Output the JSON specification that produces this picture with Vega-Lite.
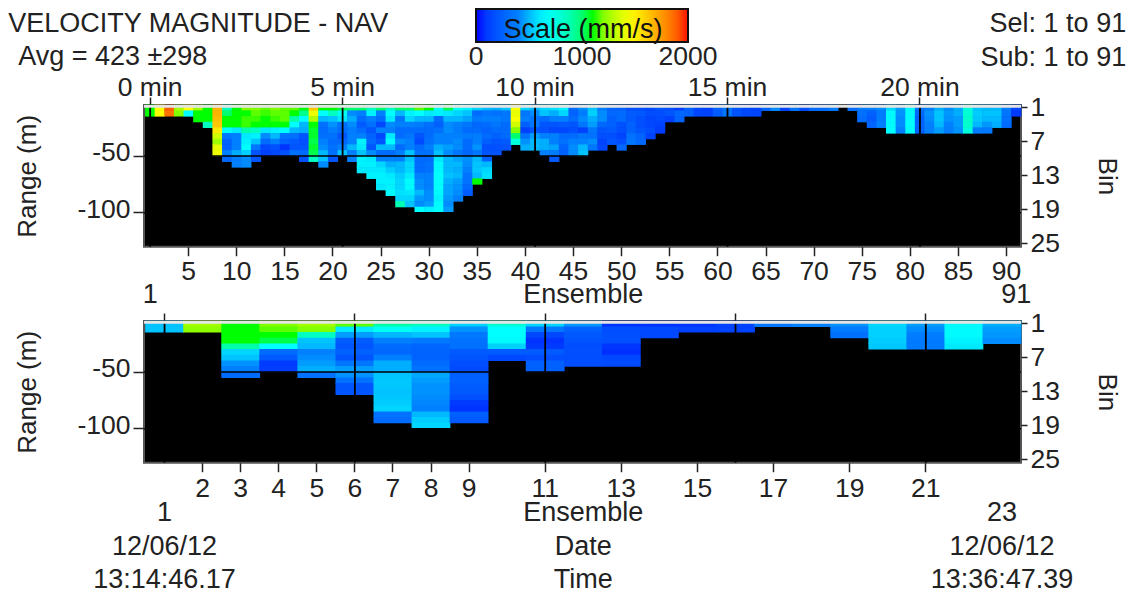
{"$schema":"https://vega.github.io/schema/vega-lite/v6.json","background":"white","padding":{"left":7,"top":8,"right":0,"bottom":2},"spacing":0,
"config":{"font":"Liberation Sans","view":{"fill":"black","stroke":"#555","strokeWidth":2},"text":{"font":"Liberation Sans","fontSize":27,"color":"#222"},"axis":{"labelFont":"Liberation Sans","titleFont":"Liberation Sans","labelColor":"#222","titleColor":"#222","titleFontWeight":"normal","labelFontSize":26.5,"titleFontSize":26,"tickColor":"#222","tickWidth":1.5,"domain":false,"labelOverlap":false,"labelAngle":0},"legend":{"orient":"none","legendX":332,"legendY":-88,"direction":"horizontal","gradientLength":212,"gradientThickness":33,"gradientStrokeColor":"#111","gradientStrokeWidth":2,"labelFont":"Liberation Sans","labelFontSize":26.5,"labelColor":"#222","labelOverlap":false,"labelOffset":4,"titleFont":"Liberation Sans","titleFontSize":27,"titleFontWeight":"normal","titleColor":"#111","titlePadding":-35,"titleAnchor":"middle","titleLimit":300}},
"datasets":{
"top":[{"e":1,"b":1,"v":1100},{"e":1,"b":2,"v":1100},{"e":2,"b":1,"v":1460},{"e":2,"b":2,"v":1460},{"e":3,"b":1,"v":1900},{"e":3,"b":2,"v":1850},{"e":4,"b":1,"v":1250},{"e":4,"b":2,"v":1200},{"e":5,"b":1,"v":1460},{"e":5,"b":2,"v":650},
{"e":6,"b":1,"v":1250},{"e":6,"b":2,"v":1100},{"e":6,"b":3,"v":1100},{"e":7,"b":1,"v":1100},{"e":7,"b":2,"v":1100},{"e":7,"b":3,"v":1100},{"e":7,"b":4,"v":850},
{"e":8,"b":1,"v":1680},{"e":8,"b":2,"v":1680},{"e":8,"b":3,"v":1650},{"e":8,"b":4,"v":1620},{"e":8,"b":5,"v":1520},{"e":8,"b":6,"v":1350},{"e":8,"b":7,"v":1250},{"e":8,"b":8,"v":1400},{"e":8,"b":9,"v":1420},
{"e":9,"b":1,"v":850},{"e":9,"b":2,"v":1000},{"e":9,"b":3,"v":1100},{"e":9,"b":4,"v":1100},{"e":9,"b":5,"v":650},{"e":9,"b":6,"v":350},{"e":9,"b":7,"v":250},{"e":9,"b":8,"v":250},{"e":9,"b":9,"v":400},{"e":9,"b":10,"v":280},
{"e":10,"b":1,"v":1100},{"e":10,"b":2,"v":1100},{"e":10,"b":3,"v":1100},{"e":10,"b":4,"v":1100},{"e":10,"b":5,"v":600},{"e":10,"b":6,"v":400},{"e":10,"b":7,"v":400},{"e":10,"b":8,"v":400},{"e":10,"b":9,"v":480},{"e":10,"b":10,"v":380},{"e":10,"b":11,"v":400},
{"e":11,"b":1,"v":1200},{"e":11,"b":2,"v":1100},{"e":11,"b":3,"v":1120},{"e":11,"b":4,"v":1120},{"e":11,"b":5,"v":900},{"e":11,"b":6,"v":600},{"e":11,"b":7,"v":620},{"e":11,"b":8,"v":650},{"e":11,"b":9,"v":550},{"e":11,"b":10,"v":420},{"e":11,"b":11,"v":420},
{"e":12,"b":1,"v":1200},{"e":12,"b":2,"v":1150},{"e":12,"b":3,"v":1120},{"e":12,"b":4,"v":1100},{"e":12,"b":5,"v":850},{"e":12,"b":6,"v":620},{"e":12,"b":7,"v":520},{"e":12,"b":8,"v":350},{"e":12,"b":9,"v":200},{"e":12,"b":10,"v":200},
{"e":13,"b":1,"v":1150},{"e":13,"b":2,"v":1120},{"e":13,"b":3,"v":1100},{"e":13,"b":4,"v":1100},{"e":13,"b":5,"v":600},{"e":13,"b":6,"v":420},{"e":13,"b":7,"v":300},{"e":13,"b":8,"v":150},{"e":13,"b":9,"v":120},
{"e":14,"b":1,"v":1200},{"e":14,"b":2,"v":1150},{"e":14,"b":3,"v":1120},{"e":14,"b":4,"v":1100},{"e":14,"b":5,"v":620},{"e":14,"b":6,"v":500},{"e":14,"b":7,"v":400},{"e":14,"b":8,"v":180},{"e":14,"b":9,"v":150},
{"e":15,"b":1,"v":1150},{"e":15,"b":2,"v":1150},{"e":15,"b":3,"v":1150},{"e":15,"b":4,"v":1100},{"e":15,"b":5,"v":650},{"e":15,"b":6,"v":320},{"e":15,"b":7,"v":260},{"e":15,"b":8,"v":80},{"e":15,"b":9,"v":180},
{"e":16,"b":1,"v":1150},{"e":16,"b":2,"v":1100},{"e":16,"b":3,"v":900},{"e":16,"b":4,"v":650},{"e":16,"b":5,"v":500},{"e":16,"b":6,"v":320},{"e":16,"b":7,"v":220},{"e":16,"b":8,"v":200},{"e":16,"b":9,"v":320},
{"e":17,"b":1,"v":1100},{"e":17,"b":2,"v":950},{"e":17,"b":3,"v":650},{"e":17,"b":4,"v":500},{"e":17,"b":5,"v":480},{"e":17,"b":6,"v":200},{"e":17,"b":7,"v":180},{"e":17,"b":8,"v":200},{"e":17,"b":9,"v":300},{"e":17,"b":10,"v":180},
{"e":18,"b":1,"v":1620},{"e":18,"b":2,"v":1420},{"e":18,"b":3,"v":1280},{"e":18,"b":4,"v":1100},{"e":18,"b":5,"v":1080},{"e":18,"b":6,"v":1080},{"e":18,"b":7,"v":1050},{"e":18,"b":8,"v":1080},{"e":18,"b":9,"v":1050},{"e":18,"b":10,"v":850},
{"e":19,"b":1,"v":1100},{"e":19,"b":2,"v":650},{"e":19,"b":3,"v":500},{"e":19,"b":4,"v":320},{"e":19,"b":5,"v":300},{"e":19,"b":6,"v":320},{"e":19,"b":7,"v":400},{"e":19,"b":8,"v":420},{"e":19,"b":9,"v":500},{"e":19,"b":10,"v":520},{"e":19,"b":11,"v":420},
{"e":20,"b":1,"v":1100},{"e":20,"b":2,"v":850},{"e":20,"b":3,"v":520},{"e":20,"b":4,"v":430},{"e":20,"b":5,"v":380},{"e":20,"b":6,"v":320},{"e":20,"b":7,"v":300},{"e":20,"b":8,"v":320},{"e":20,"b":9,"v":320},{"e":20,"b":10,"v":200},
{"e":21,"b":1,"v":1050},{"e":21,"b":2,"v":700},{"e":21,"b":3,"v":600},{"e":21,"b":4,"v":320},{"e":21,"b":5,"v":300},{"e":21,"b":6,"v":200},{"e":21,"b":7,"v":280},{"e":21,"b":8,"v":400},{"e":21,"b":9,"v":520},
{"e":22,"b":1,"v":1000},{"e":22,"b":2,"v":420},{"e":22,"b":3,"v":480},{"e":22,"b":4,"v":420},{"e":22,"b":5,"v":380},{"e":22,"b":6,"v":400},{"e":22,"b":7,"v":400},{"e":22,"b":8,"v":500},{"e":22,"b":9,"v":400},{"e":22,"b":10,"v":400},
{"e":23,"b":1,"v":1000},{"e":23,"b":2,"v":400},{"e":23,"b":3,"v":300},{"e":23,"b":4,"v":220},{"e":23,"b":5,"v":300},{"e":23,"b":6,"v":400},{"e":23,"b":7,"v":620},{"e":23,"b":8,"v":600},{"e":23,"b":9,"v":520},{"e":23,"b":10,"v":620},{"e":23,"b":11,"v":620},{"e":23,"b":12,"v":600},
{"e":24,"b":1,"v":850},{"e":24,"b":2,"v":620},{"e":24,"b":3,"v":400},{"e":24,"b":4,"v":320},{"e":24,"b":5,"v":200},{"e":24,"b":6,"v":260},{"e":24,"b":7,"v":280},{"e":24,"b":8,"v":200},{"e":24,"b":9,"v":420},{"e":24,"b":10,"v":600},{"e":24,"b":11,"v":620},{"e":24,"b":12,"v":600},{"e":24,"b":13,"v":620},
{"e":25,"b":1,"v":1000},{"e":25,"b":2,"v":400},{"e":25,"b":3,"v":300},{"e":25,"b":4,"v":150},{"e":25,"b":5,"v":400},{"e":25,"b":6,"v":150},{"e":25,"b":7,"v":200},{"e":25,"b":8,"v":500},{"e":25,"b":9,"v":300},{"e":25,"b":10,"v":400},{"e":25,"b":11,"v":560},{"e":25,"b":12,"v":600},{"e":25,"b":13,"v":620},{"e":25,"b":14,"v":620},{"e":25,"b":15,"v":600},
{"e":26,"b":1,"v":850},{"e":26,"b":2,"v":650},{"e":26,"b":3,"v":600},{"e":26,"b":4,"v":420},{"e":26,"b":5,"v":400},{"e":26,"b":6,"v":600},{"e":26,"b":7,"v":650},{"e":26,"b":8,"v":500},{"e":26,"b":9,"v":300},{"e":26,"b":10,"v":400},{"e":26,"b":11,"v":480},{"e":26,"b":12,"v":540},{"e":26,"b":13,"v":600},{"e":26,"b":14,"v":620},{"e":26,"b":15,"v":620},{"e":26,"b":16,"v":640},
{"e":27,"b":1,"v":1000},{"e":27,"b":2,"v":500},{"e":27,"b":3,"v":350},{"e":27,"b":4,"v":400},{"e":27,"b":5,"v":300},{"e":27,"b":6,"v":300},{"e":27,"b":7,"v":420},{"e":27,"b":8,"v":300},{"e":27,"b":9,"v":400},{"e":27,"b":10,"v":400},{"e":27,"b":11,"v":500},{"e":27,"b":12,"v":500},{"e":27,"b":13,"v":540},{"e":27,"b":14,"v":560},{"e":27,"b":15,"v":560},{"e":27,"b":16,"v":580},{"e":27,"b":17,"v":560},{"e":27,"b":18,"v":880},
{"e":28,"b":1,"v":1000},{"e":28,"b":2,"v":620},{"e":28,"b":3,"v":560},{"e":28,"b":4,"v":400},{"e":28,"b":5,"v":300},{"e":28,"b":6,"v":350},{"e":28,"b":7,"v":400},{"e":28,"b":8,"v":400},{"e":28,"b":9,"v":520},{"e":28,"b":10,"v":520},{"e":28,"b":11,"v":560},{"e":28,"b":12,"v":560},{"e":28,"b":13,"v":600},{"e":28,"b":14,"v":640},{"e":28,"b":15,"v":640},{"e":28,"b":16,"v":600},{"e":28,"b":17,"v":560},{"e":28,"b":18,"v":520},
{"e":29,"b":1,"v":1150},{"e":29,"b":2,"v":650},{"e":29,"b":3,"v":500},{"e":29,"b":4,"v":380},{"e":29,"b":5,"v":300},{"e":29,"b":6,"v":200},{"e":29,"b":7,"v":160},{"e":29,"b":8,"v":300},{"e":29,"b":9,"v":320},{"e":29,"b":10,"v":300},{"e":29,"b":11,"v":300},{"e":29,"b":12,"v":300},{"e":29,"b":13,"v":400},{"e":29,"b":14,"v":420},{"e":29,"b":15,"v":420},{"e":29,"b":16,"v":500},{"e":29,"b":17,"v":440},{"e":29,"b":18,"v":420},{"e":29,"b":19,"v":650},
{"e":30,"b":1,"v":1100},{"e":30,"b":2,"v":600},{"e":30,"b":3,"v":500},{"e":30,"b":4,"v":320},{"e":30,"b":5,"v":300},{"e":30,"b":6,"v":300},{"e":30,"b":7,"v":320},{"e":30,"b":8,"v":400},{"e":30,"b":9,"v":320},{"e":30,"b":10,"v":300},{"e":30,"b":11,"v":320},{"e":30,"b":12,"v":320},{"e":30,"b":13,"v":400},{"e":30,"b":14,"v":400},{"e":30,"b":15,"v":400},{"e":30,"b":16,"v":420},{"e":30,"b":17,"v":420},{"e":30,"b":18,"v":450},{"e":30,"b":19,"v":620},
{"e":31,"b":1,"v":700},{"e":31,"b":2,"v":620},{"e":31,"b":3,"v":300},{"e":31,"b":4,"v":250},{"e":31,"b":5,"v":320},{"e":31,"b":6,"v":400},{"e":31,"b":7,"v":400},{"e":31,"b":8,"v":480},{"e":31,"b":9,"v":520},{"e":31,"b":10,"v":600},{"e":31,"b":11,"v":640},{"e":31,"b":12,"v":640},{"e":31,"b":13,"v":660},{"e":31,"b":14,"v":660},{"e":31,"b":15,"v":660},{"e":31,"b":16,"v":640},{"e":31,"b":17,"v":620},{"e":31,"b":18,"v":640},{"e":31,"b":19,"v":660},
{"e":32,"b":1,"v":1050},{"e":32,"b":2,"v":600},{"e":32,"b":3,"v":500},{"e":32,"b":4,"v":420},{"e":32,"b":5,"v":420},{"e":32,"b":6,"v":400},{"e":32,"b":7,"v":400},{"e":32,"b":8,"v":450},{"e":32,"b":9,"v":420},{"e":32,"b":10,"v":500},{"e":32,"b":11,"v":500},{"e":32,"b":12,"v":500},{"e":32,"b":13,"v":520},{"e":32,"b":14,"v":480},{"e":32,"b":15,"v":460},{"e":32,"b":16,"v":460},{"e":32,"b":17,"v":440},{"e":32,"b":18,"v":420},{"e":32,"b":19,"v":450},
{"e":33,"b":1,"v":700},{"e":33,"b":2,"v":560},{"e":33,"b":3,"v":500},{"e":33,"b":4,"v":400},{"e":33,"b":5,"v":380},{"e":33,"b":6,"v":400},{"e":33,"b":7,"v":420},{"e":33,"b":8,"v":420},{"e":33,"b":9,"v":350},{"e":33,"b":10,"v":460},{"e":33,"b":11,"v":500},{"e":33,"b":12,"v":480},{"e":33,"b":13,"v":500},{"e":33,"b":14,"v":450},{"e":33,"b":15,"v":430},{"e":33,"b":16,"v":420},{"e":33,"b":17,"v":400},
{"e":34,"b":1,"v":620},{"e":34,"b":2,"v":520},{"e":34,"b":3,"v":460},{"e":34,"b":4,"v":350},{"e":34,"b":5,"v":300},{"e":34,"b":6,"v":380},{"e":34,"b":7,"v":300},{"e":34,"b":8,"v":300},{"e":34,"b":9,"v":280},{"e":34,"b":10,"v":430},{"e":34,"b":11,"v":420},{"e":34,"b":12,"v":400},{"e":34,"b":13,"v":340},{"e":34,"b":14,"v":330},{"e":34,"b":15,"v":280},{"e":34,"b":16,"v":230},
{"e":35,"b":1,"v":550},{"e":35,"b":2,"v":300},{"e":35,"b":3,"v":380},{"e":35,"b":4,"v":280},{"e":35,"b":5,"v":300},{"e":35,"b":6,"v":380},{"e":35,"b":7,"v":400},{"e":35,"b":8,"v":430},{"e":35,"b":9,"v":350},{"e":35,"b":10,"v":500},{"e":35,"b":11,"v":520},{"e":35,"b":12,"v":530},{"e":35,"b":13,"v":500},{"e":35,"b":14,"v":1100},
{"e":36,"b":1,"v":500},{"e":36,"b":2,"v":350},{"e":36,"b":3,"v":400},{"e":36,"b":4,"v":300},{"e":36,"b":5,"v":260},{"e":36,"b":6,"v":300},{"e":36,"b":7,"v":240},{"e":36,"b":8,"v":180},{"e":36,"b":9,"v":200},{"e":36,"b":10,"v":250},{"e":36,"b":11,"v":500},{"e":36,"b":12,"v":560},{"e":36,"b":13,"v":580},
{"e":37,"b":1,"v":480},{"e":37,"b":2,"v":330},{"e":37,"b":3,"v":400},{"e":37,"b":4,"v":350},{"e":37,"b":5,"v":300},{"e":37,"b":6,"v":250},{"e":37,"b":7,"v":200},{"e":37,"b":8,"v":180},{"e":37,"b":9,"v":190},
{"e":38,"b":1,"v":520},{"e":38,"b":2,"v":350},{"e":38,"b":3,"v":360},{"e":38,"b":4,"v":300},{"e":38,"b":5,"v":300},{"e":38,"b":6,"v":300},{"e":38,"b":7,"v":220},{"e":38,"b":8,"v":190},
{"e":39,"b":1,"v":1450},{"e":39,"b":2,"v":1400},{"e":39,"b":3,"v":1440},{"e":39,"b":4,"v":1340},{"e":39,"b":5,"v":1200},{"e":39,"b":6,"v":1000},{"e":39,"b":7,"v":780},
{"e":40,"b":1,"v":550},{"e":40,"b":2,"v":350},{"e":40,"b":3,"v":400},{"e":40,"b":4,"v":250},{"e":40,"b":5,"v":120},{"e":40,"b":6,"v":330},{"e":40,"b":7,"v":430},{"e":40,"b":8,"v":480},
{"e":41,"b":1,"v":500},{"e":41,"b":2,"v":420},{"e":41,"b":3,"v":350},{"e":41,"b":4,"v":350},{"e":41,"b":5,"v":200},{"e":41,"b":6,"v":450},{"e":41,"b":7,"v":500},{"e":41,"b":8,"v":500},
{"e":42,"b":1,"v":560},{"e":42,"b":2,"v":520},{"e":42,"b":3,"v":300},{"e":42,"b":4,"v":200},{"e":42,"b":5,"v":180},{"e":42,"b":6,"v":400},{"e":42,"b":7,"v":480},{"e":42,"b":8,"v":480},{"e":42,"b":9,"v":400},
{"e":43,"b":1,"v":580},{"e":43,"b":2,"v":480},{"e":43,"b":3,"v":400},{"e":43,"b":4,"v":200},{"e":43,"b":5,"v":150},{"e":43,"b":6,"v":400},{"e":43,"b":7,"v":400},{"e":43,"b":8,"v":460},{"e":43,"b":9,"v":380},{"e":43,"b":10,"v":220},
{"e":44,"b":1,"v":620},{"e":44,"b":2,"v":560},{"e":44,"b":3,"v":400},{"e":44,"b":4,"v":220},{"e":44,"b":5,"v":150},{"e":44,"b":6,"v":300},{"e":44,"b":7,"v":320},{"e":44,"b":8,"v":260},{"e":44,"b":9,"v":250},
{"e":45,"b":1,"v":300},{"e":45,"b":2,"v":260},{"e":45,"b":3,"v":300},{"e":45,"b":4,"v":200},{"e":45,"b":5,"v":180},{"e":45,"b":6,"v":300},{"e":45,"b":7,"v":400},{"e":45,"b":8,"v":420},{"e":45,"b":9,"v":420},
{"e":46,"b":1,"v":420},{"e":46,"b":2,"v":380},{"e":46,"b":3,"v":420},{"e":46,"b":4,"v":350},{"e":46,"b":5,"v":120},{"e":46,"b":6,"v":350},{"e":46,"b":7,"v":400},{"e":46,"b":8,"v":500},{"e":46,"b":9,"v":520},
{"e":47,"b":1,"v":520},{"e":47,"b":2,"v":550},{"e":47,"b":3,"v":480},{"e":47,"b":4,"v":450},{"e":47,"b":5,"v":350},{"e":47,"b":6,"v":330},{"e":47,"b":7,"v":420},{"e":47,"b":8,"v":350},
{"e":48,"b":1,"v":380},{"e":48,"b":2,"v":420},{"e":48,"b":3,"v":420},{"e":48,"b":4,"v":280},{"e":48,"b":5,"v":200},{"e":48,"b":6,"v":180},{"e":48,"b":7,"v":130},{"e":48,"b":8,"v":150},
{"e":49,"b":1,"v":270},{"e":49,"b":2,"v":280},{"e":49,"b":3,"v":250},{"e":49,"b":4,"v":240},{"e":49,"b":5,"v":220},{"e":49,"b":6,"v":180},{"e":49,"b":7,"v":200},
{"e":50,"b":1,"v":240},{"e":50,"b":2,"v":300},{"e":50,"b":3,"v":300},{"e":50,"b":4,"v":180},{"e":50,"b":5,"v":170},{"e":50,"b":6,"v":130},{"e":50,"b":7,"v":170},{"e":50,"b":8,"v":280},
{"e":51,"b":1,"v":180},{"e":51,"b":2,"v":230},{"e":51,"b":3,"v":220},{"e":51,"b":4,"v":250},{"e":51,"b":5,"v":250},{"e":51,"b":6,"v":330},{"e":51,"b":7,"v":350},
{"e":52,"b":1,"v":170},{"e":52,"b":2,"v":210},{"e":52,"b":3,"v":180},{"e":52,"b":4,"v":170},{"e":52,"b":5,"v":200},{"e":52,"b":6,"v":260},{"e":52,"b":7,"v":280},
{"e":53,"b":1,"v":150},{"e":53,"b":2,"v":170},{"e":53,"b":3,"v":140},{"e":53,"b":4,"v":150},{"e":53,"b":5,"v":170},{"e":53,"b":6,"v":130},
{"e":54,"b":1,"v":200},{"e":54,"b":2,"v":170},{"e":54,"b":3,"v":160},{"e":54,"b":4,"v":130},{"e":54,"b":5,"v":110},
{"e":55,"b":1,"v":170},{"e":55,"b":2,"v":200},{"e":55,"b":3,"v":120},{"e":56,"b":1,"v":110},{"e":56,"b":2,"v":280},{"e":56,"b":3,"v":260},
{"e":57,"b":1,"v":240},{"e":57,"b":2,"v":250},{"e":58,"b":1,"v":140},{"e":58,"b":2,"v":140},{"e":59,"b":1,"v":120},{"e":59,"b":2,"v":130},{"e":60,"b":1,"v":250},{"e":60,"b":2,"v":230},
{"e":61,"b":1,"v":350},{"e":61,"b":2,"v":350},{"e":62,"b":1,"v":200},{"e":62,"b":2,"v":190},{"e":63,"b":1,"v":150},{"e":63,"b":2,"v":150},{"e":64,"b":1,"v":130},{"e":64,"b":2,"v":140},
{"e":65,"b":1,"v":260},{"e":66,"b":1,"v":420},{"e":67,"b":1,"v":130},{"e":68,"b":1,"v":340},{"e":69,"b":1,"v":170},{"e":70,"b":1,"v":300},{"e":71,"b":1,"v":310},{"e":72,"b":1,"v":380},{"e":74,"b":1,"v":310},
{"e":75,"b":1,"v":370},{"e":75,"b":2,"v":320},{"e":75,"b":3,"v":300},
{"e":76,"b":1,"v":400},{"e":76,"b":2,"v":250},{"e":76,"b":3,"v":220},{"e":76,"b":4,"v":270},
{"e":77,"b":1,"v":420},{"e":77,"b":2,"v":370},{"e":77,"b":3,"v":380},{"e":77,"b":4,"v":400},
{"e":78,"b":1,"v":560},{"e":78,"b":2,"v":640},{"e":78,"b":3,"v":640},{"e":78,"b":4,"v":640},{"e":78,"b":5,"v":650},
{"e":79,"b":1,"v":450},{"e":79,"b":2,"v":430},{"e":79,"b":3,"v":420},{"e":79,"b":4,"v":420},{"e":79,"b":5,"v":400},
{"e":80,"b":1,"v":640},{"e":80,"b":2,"v":660},{"e":80,"b":3,"v":660},{"e":80,"b":4,"v":650},{"e":80,"b":5,"v":650},
{"e":81,"b":1,"v":350},{"e":81,"b":2,"v":300},{"e":81,"b":3,"v":250},{"e":81,"b":4,"v":260},{"e":81,"b":5,"v":250},
{"e":82,"b":1,"v":400},{"e":82,"b":2,"v":430},{"e":82,"b":3,"v":420},{"e":82,"b":4,"v":400},{"e":82,"b":5,"v":400},
{"e":83,"b":1,"v":480},{"e":83,"b":2,"v":520},{"e":83,"b":3,"v":520},{"e":83,"b":4,"v":500},{"e":83,"b":5,"v":450},
{"e":84,"b":1,"v":420},{"e":84,"b":2,"v":440},{"e":84,"b":3,"v":430},{"e":84,"b":4,"v":400},{"e":84,"b":5,"v":380},
{"e":85,"b":1,"v":480},{"e":85,"b":2,"v":480},{"e":85,"b":3,"v":450},{"e":85,"b":4,"v":450},{"e":85,"b":5,"v":430},
{"e":86,"b":1,"v":780},{"e":86,"b":2,"v":800},{"e":86,"b":3,"v":820},{"e":86,"b":4,"v":820},{"e":86,"b":5,"v":780},
{"e":87,"b":1,"v":520},{"e":87,"b":2,"v":540},{"e":87,"b":3,"v":530},{"e":87,"b":4,"v":500},{"e":87,"b":5,"v":380},
{"e":88,"b":1,"v":500},{"e":88,"b":2,"v":520},{"e":88,"b":3,"v":500},{"e":88,"b":4,"v":440},{"e":88,"b":5,"v":360},
{"e":89,"b":1,"v":500},{"e":89,"b":2,"v":520},{"e":89,"b":3,"v":500},{"e":89,"b":4,"v":480},
{"e":90,"b":1,"v":380},{"e":90,"b":2,"v":350},{"e":90,"b":3,"v":320},{"e":90,"b":4,"v":300},
{"e":91,"b":1,"v":140},{"e":91,"b":2,"v":100}],
"bottom":[{"e":1,"b":1,"v":520},{"e":1,"b":2,"v":520},{"e":2,"b":1,"v":1250},{"e":2,"b":2,"v":1220},
{"e":3,"b":1,"v":1100},{"e":3,"b":2,"v":1100},{"e":3,"b":3,"v":1100},{"e":3,"b":4,"v":1100},{"e":3,"b":5,"v":900},{"e":3,"b":6,"v":560},{"e":3,"b":7,"v":520},{"e":3,"b":8,"v":430},{"e":3,"b":9,"v":400},{"e":3,"b":10,"v":300},
{"e":4,"b":1,"v":1200},{"e":4,"b":2,"v":1150},{"e":4,"b":3,"v":1100},{"e":4,"b":4,"v":1050},{"e":4,"b":5,"v":650},{"e":4,"b":6,"v":300},{"e":4,"b":7,"v":220},{"e":4,"b":8,"v":100},{"e":4,"b":9,"v":110},
{"e":5,"b":1,"v":1250},{"e":5,"b":2,"v":1200},{"e":5,"b":3,"v":850},{"e":5,"b":4,"v":520},{"e":5,"b":5,"v":500},{"e":5,"b":6,"v":400},{"e":5,"b":7,"v":420},{"e":5,"b":8,"v":450},{"e":5,"b":9,"v":480},{"e":5,"b":10,"v":330},
{"e":6,"b":1,"v":1150},{"e":6,"b":2,"v":600},{"e":6,"b":3,"v":450},{"e":6,"b":4,"v":230},{"e":6,"b":5,"v":200},{"e":6,"b":6,"v":250},{"e":6,"b":7,"v":200},{"e":6,"b":8,"v":350},{"e":6,"b":9,"v":450},{"e":6,"b":10,"v":430},{"e":6,"b":11,"v":330},{"e":6,"b":12,"v":200},{"e":6,"b":13,"v":200},
{"e":7,"b":1,"v":900},{"e":7,"b":2,"v":700},{"e":7,"b":3,"v":500},{"e":7,"b":4,"v":400},{"e":7,"b":5,"v":300},{"e":7,"b":6,"v":280},{"e":7,"b":7,"v":400},{"e":7,"b":8,"v":480},{"e":7,"b":9,"v":480},{"e":7,"b":10,"v":520},{"e":7,"b":11,"v":530},{"e":7,"b":12,"v":530},{"e":7,"b":13,"v":520},{"e":7,"b":14,"v":530},{"e":7,"b":15,"v":540},{"e":7,"b":16,"v":560},{"e":7,"b":17,"v":330},{"e":7,"b":18,"v":300},
{"e":8,"b":1,"v":850},{"e":8,"b":2,"v":620},{"e":8,"b":3,"v":520},{"e":8,"b":4,"v":360},{"e":8,"b":5,"v":270},{"e":8,"b":6,"v":260},{"e":8,"b":7,"v":260},{"e":8,"b":8,"v":300},{"e":8,"b":9,"v":330},{"e":8,"b":10,"v":470},{"e":8,"b":11,"v":450},{"e":8,"b":12,"v":430},{"e":8,"b":13,"v":430},{"e":8,"b":14,"v":420},{"e":8,"b":15,"v":410},{"e":8,"b":16,"v":400},{"e":8,"b":17,"v":500},{"e":8,"b":18,"v":540},{"e":8,"b":19,"v":560},
{"e":9,"b":1,"v":550},{"e":9,"b":2,"v":430},{"e":9,"b":3,"v":360},{"e":9,"b":4,"v":330},{"e":9,"b":5,"v":320},{"e":9,"b":6,"v":220},{"e":9,"b":7,"v":200},{"e":9,"b":8,"v":170},{"e":9,"b":9,"v":160},{"e":9,"b":10,"v":240},{"e":9,"b":11,"v":250},{"e":9,"b":12,"v":230},{"e":9,"b":13,"v":220},{"e":9,"b":14,"v":180},{"e":9,"b":15,"v":100},{"e":9,"b":16,"v":80},{"e":9,"b":17,"v":240},{"e":9,"b":18,"v":220},
{"e":10,"b":1,"v":800},{"e":10,"b":2,"v":650},{"e":10,"b":3,"v":650},{"e":10,"b":4,"v":640},{"e":10,"b":5,"v":550},{"e":10,"b":6,"v":230},{"e":10,"b":7,"v":150},
{"e":11,"b":1,"v":560},{"e":11,"b":2,"v":360},{"e":11,"b":3,"v":150},{"e":11,"b":4,"v":80},{"e":11,"b":5,"v":100},{"e":11,"b":6,"v":220},{"e":11,"b":7,"v":170},{"e":11,"b":8,"v":250},{"e":11,"b":9,"v":250},
{"e":12,"b":1,"v":440},{"e":12,"b":2,"v":250},{"e":12,"b":3,"v":210},{"e":12,"b":4,"v":190},{"e":12,"b":5,"v":170},{"e":12,"b":6,"v":180},{"e":12,"b":7,"v":170},{"e":12,"b":8,"v":170},
{"e":13,"b":1,"v":80},{"e":13,"b":2,"v":170},{"e":13,"b":3,"v":180},{"e":13,"b":4,"v":180},{"e":13,"b":5,"v":90},{"e":13,"b":6,"v":70},{"e":13,"b":7,"v":150},{"e":13,"b":8,"v":160},
{"e":14,"b":1,"v":80},{"e":14,"b":2,"v":150},{"e":14,"b":3,"v":150},{"e":15,"b":1,"v":90},{"e":15,"b":2,"v":120},{"e":16,"b":1,"v":130},{"e":16,"b":2,"v":130},{"e":17,"b":1,"v":350},{"e":18,"b":1,"v":400},
{"e":19,"b":1,"v":430},{"e":19,"b":2,"v":370},{"e":19,"b":3,"v":320},
{"e":20,"b":1,"v":560},{"e":20,"b":2,"v":550},{"e":20,"b":3,"v":550},{"e":20,"b":4,"v":540},{"e":20,"b":5,"v":530},
{"e":21,"b":1,"v":450},{"e":21,"b":2,"v":420},{"e":21,"b":3,"v":390},{"e":21,"b":4,"v":370},{"e":21,"b":5,"v":370},
{"e":22,"b":1,"v":640},{"e":22,"b":2,"v":640},{"e":22,"b":3,"v":640},{"e":22,"b":4,"v":620},{"e":22,"b":5,"v":600},
{"e":23,"b":1,"v":480},{"e":23,"b":2,"v":450},{"e":23,"b":3,"v":440},{"e":23,"b":4,"v":420}]},
"vconcat":[
{"width":877,"height":141.7,"resolve":{"axis":{"x":"independent","y":"independent"}},"layer":[
{"data":{"name":"top"},"mark":{"type":"rect","width":{"band":1.06},"height":{"band":1.1}},"encoding":{
"x":{"field":"e","type":"ordinal","scale":{"domain":[1,2,3,4,5,6,7,8,9,10,11,12,13,14,15,16,17,18,19,20,21,22,23,24,25,26,27,28,29,30,31,32,33,34,35,36,37,38,39,40,41,42,43,44,45,46,47,48,49,50,51,52,53,54,55,56,57,58,59,60,61,62,63,64,65,66,67,68,69,70,71,72,73,74,75,76,77,78,79,80,81,82,83,84,85,86,87,88,89,90,91],"paddingInner":0,"paddingOuter":0.07,"align":1},"axis":{"orient":"bottom","title":null,"values":[5,10,15,20,25,30,35,40,45,50,55,60,65,70,75,80,85,90],"tickSize":9,"labelPadding":3}},
"y":{"field":"b","type":"ordinal","scale":{"domain":[1,2,3,4,5,6,7,8,9,10,11,12,13,14,15,16,17,18,19,20,21,22,23,24,25],"paddingInner":0,"paddingOuter":0},"axis":{"orient":"left","title":"Range (m)","values":[9,19],"labelExpr":"datum.value==9?'-50':'-100'","bandPosition":1,"tickSize":11,"labelPadding":3,"titlePadding":36}},
"color":{"field":"v","type":"quantitative","title":"Scale (mm/s)","scale":{"domain":[0,400,650,1100,1460,2000],"range":["#0000ff","#0080ff","#00ffff","#00ff00","#ffff00","#ff1000"]},"legend":{"type":"gradient","values":[0,1000,2000],"format":"d","encode":{"labels":{"update":{"align":{"value":"center"}}}}}}}},
{"data":{"values":[{"e":1,"b":25,"t":"1"},{"e":46,"b":25,"t":"Ensemble"},{"e":91,"b":25,"t":"91"}]},"mark":{"type":"text","dy":51},"encoding":{
"x":{"field":"e","type":"ordinal","scale":{"domain":[1,2,3,4,5,6,7,8,9,10,11,12,13,14,15,16,17,18,19,20,21,22,23,24,25,26,27,28,29,30,31,32,33,34,35,36,37,38,39,40,41,42,43,44,45,46,47,48,49,50,51,52,53,54,55,56,57,58,59,60,61,62,63,64,65,66,67,68,69,70,71,72,73,74,75,76,77,78,79,80,81,82,83,84,85,86,87,88,89,90,91],"paddingInner":0,"paddingOuter":0.07,"align":1},"axis":{"orient":"top","title":null,"values":[1,21,41,61,81],"labelExpr":"((datum.value-1)/4)+' min'","tickSize":8,"labelPadding":-4}},
"y":{"field":"b","type":"ordinal","scale":{"domain":[1,2,3,4,5,6,7,8,9,10,11,12,13,14,15,16,17,18,19,20,21,22,23,24,25],"paddingInner":0,"paddingOuter":0},"axis":{"orient":"right","title":"Bin","titleAngle":90,"values":[1,7,13,19,25],"tickSize":6,"labelPadding":3,"titlePadding":34}},
"text":{"field":"t"}}},
{"data":{"values":[{"e":1},{"e":21},{"e":41},{"e":61},{"e":81}]},"mark":{"type":"rule","color":"black","strokeWidth":1.8},"encoding":{"x":{"field":"e","type":"ordinal","axis":null,"scale":{"domain":[1,2,3,4,5,6,7,8,9,10,11,12,13,14,15,16,17,18,19,20,21,22,23,24,25,26,27,28,29,30,31,32,33,34,35,36,37,38,39,40,41,42,43,44,45,46,47,48,49,50,51,52,53,54,55,56,57,58,59,60,61,62,63,64,65,66,67,68,69,70,71,72,73,74,75,76,77,78,79,80,81,82,83,84,85,86,87,88,89,90,91],"paddingInner":0,"paddingOuter":0.07,"align":1}}}},
{"data":{"values":[{"b":9},{"b":19}]},"mark":{"type":"rule","color":"black","strokeWidth":1.5},"encoding":{"y":{"field":"b","type":"ordinal","bandPosition":1,"axis":null,"scale":{"domain":[1,2,3,4,5,6,7,8,9,10,11,12,13,14,15,16,17,18,19,20,21,22,23,24,25],"paddingInner":0,"paddingOuter":0}}}},
{"data":{"values":[{"b":1}]},"mark":{"type":"rule","color":"#e4e4e4","strokeWidth":2.6,"yOffset":-1.5},"encoding":{"y":{"field":"b","type":"ordinal","scale":{"domain":[1,2,3,4,5,6,7,8,9,10,11,12,13,14,15,16,17,18,19,20,21,22,23,24,25],"paddingInner":0,"paddingOuter":0},"axis":null}}},
{"data":{"values":[{"e":1,"b":1,"t":"VELOCITY MAGNITUDE - NAV"}]},"mark":{"type":"text","align":"left","dx":-142,"dy":-84},"encoding":{
"x":{"field":"e","type":"ordinal","axis":null,"scale":{"domain":[1,2,3,4,5,6,7,8,9,10,11,12,13,14,15,16,17,18,19,20,21,22,23,24,25,26,27,28,29,30,31,32,33,34,35,36,37,38,39,40,41,42,43,44,45,46,47,48,49,50,51,52,53,54,55,56,57,58,59,60,61,62,63,64,65,66,67,68,69,70,71,72,73,74,75,76,77,78,79,80,81,82,83,84,85,86,87,88,89,90,91],"paddingInner":0,"paddingOuter":0.07,"align":1}},
"y":{"field":"b","type":"ordinal","axis":null,"scale":{"domain":[1,2,3,4,5,6,7,8,9,10,11,12,13,14,15,16,17,18,19,20,21,22,23,24,25],"paddingInner":0,"paddingOuter":0}},"text":{"field":"t"}}},
{"data":{"values":[{"e":1,"b":1,"t":"Avg = 423 ±298"}]},"mark":{"type":"text","align":"left","dx":-132,"dy":-51},"encoding":{
"x":{"field":"e","type":"ordinal","axis":null,"scale":{"domain":[1,2,3,4,5,6,7,8,9,10,11,12,13,14,15,16,17,18,19,20,21,22,23,24,25,26,27,28,29,30,31,32,33,34,35,36,37,38,39,40,41,42,43,44,45,46,47,48,49,50,51,52,53,54,55,56,57,58,59,60,61,62,63,64,65,66,67,68,69,70,71,72,73,74,75,76,77,78,79,80,81,82,83,84,85,86,87,88,89,90,91],"paddingInner":0,"paddingOuter":0.07,"align":1}},
"y":{"field":"b","type":"ordinal","axis":null,"scale":{"domain":[1,2,3,4,5,6,7,8,9,10,11,12,13,14,15,16,17,18,19,20,21,22,23,24,25],"paddingInner":0,"paddingOuter":0}},"text":{"field":"t"}}},
{"data":{"values":[{"e":91,"b":1,"t":"Sel: 1 to 91\nSub: 1 to 91"}]},"mark":{"type":"text","align":"right","dx":110,"dy":-84,"lineBreak":"\n","lineHeight":34},"encoding":{
"x":{"field":"e","type":"ordinal","axis":null,"scale":{"domain":[1,2,3,4,5,6,7,8,9,10,11,12,13,14,15,16,17,18,19,20,21,22,23,24,25,26,27,28,29,30,31,32,33,34,35,36,37,38,39,40,41,42,43,44,45,46,47,48,49,50,51,52,53,54,55,56,57,58,59,60,61,62,63,64,65,66,67,68,69,70,71,72,73,74,75,76,77,78,79,80,81,82,83,84,85,86,87,88,89,90,91],"paddingInner":0,"paddingOuter":0.07,"align":1}},
"y":{"field":"b","type":"ordinal","axis":null,"scale":{"domain":[1,2,3,4,5,6,7,8,9,10,11,12,13,14,15,16,17,18,19,20,21,22,23,24,25],"paddingInner":0,"paddingOuter":0}},"text":{"field":"t"}}}
]},
{"width":877,"height":141.7,"resolve":{"axis":{"x":"independent","y":"independent"}},"layer":[
{"data":{"name":"bottom"},"mark":{"type":"rect","width":{"band":1.02},"height":{"band":1.1}},"encoding":{
"x":{"field":"e","type":"ordinal","scale":{"domain":[1,2,3,4,5,6,7,8,9,10,11,12,13,14,15,16,17,18,19,20,21,22,23],"paddingInner":0,"paddingOuter":0.02,"align":1},"axis":{"orient":"bottom","title":null,"values":[2,3,4,5,6,7,8,9,11,13,15,17,19,21],"tickSize":9,"labelPadding":4}},
"y":{"field":"b","type":"ordinal","scale":{"domain":[1,2,3,4,5,6,7,8,9,10,11,12,13,14,15,16,17,18,19,20,21,22,23,24,25],"paddingInner":0,"paddingOuter":0},"axis":{"orient":"left","title":"Range (m)","values":[9,19],"labelExpr":"datum.value==9?'-50':'-100'","bandPosition":1,"tickSize":11,"labelPadding":3,"titlePadding":36}},
"color":{"field":"v","type":"quantitative","title":"Scale (mm/s)","scale":{"domain":[0,400,650,1100,1460,2000],"range":["#0000ff","#0080ff","#00ffff","#00ff00","#ffff00","#ff1000"]},"legend":{"type":"gradient","values":[0,1000,2000],"format":"d","encode":{"labels":{"update":{"align":{"value":"center"}}}}}}}},
{"data":{"values":[{"e":1,"b":25,"t":"1\n12/06/12\n13:14:46.17"},{"e":12,"b":25,"t":"Ensemble\nDate\nTime"},{"e":23,"b":25,"t":"23\n12/06/12\n13:36:47.39"}]},"mark":{"type":"text","dy":53.5,"baseline":"middle","lineBreak":"\n","lineHeight":33.5},"encoding":{
"x":{"field":"e","type":"ordinal","scale":{"domain":[1,2,3,4,5,6,7,8,9,10,11,12,13,14,15,16,17,18,19,20,21,22,23],"paddingInner":0,"paddingOuter":0.02,"align":1},"axis":{"orient":"top","title":null,"values":[1,6,11,16,21],"labels":false,"tickSize":8}},
"y":{"field":"b","type":"ordinal","scale":{"domain":[1,2,3,4,5,6,7,8,9,10,11,12,13,14,15,16,17,18,19,20,21,22,23,24,25],"paddingInner":0,"paddingOuter":0},"axis":{"orient":"right","title":"Bin","titleAngle":90,"values":[1,7,13,19,25],"tickSize":6,"labelPadding":3,"titlePadding":34}},
"text":{"field":"t"}}},
{"data":{"values":[{"e":1},{"e":6},{"e":11},{"e":16},{"e":21}]},"mark":{"type":"rule","color":"black","strokeWidth":1.8},"encoding":{"x":{"field":"e","type":"ordinal","axis":null,"scale":{"domain":[1,2,3,4,5,6,7,8,9,10,11,12,13,14,15,16,17,18,19,20,21,22,23],"paddingInner":0,"paddingOuter":0.02,"align":1}}}},
{"data":{"values":[{"b":9},{"b":19}]},"mark":{"type":"rule","color":"black","strokeWidth":1.5},"encoding":{"y":{"field":"b","type":"ordinal","bandPosition":1,"axis":null,"scale":{"domain":[1,2,3,4,5,6,7,8,9,10,11,12,13,14,15,16,17,18,19,20,21,22,23,24,25],"paddingInner":0,"paddingOuter":0}}}},
{"data":{"values":[{"b":1}]},"mark":{"type":"rule","color":"#e4e4e4","strokeWidth":2.6,"yOffset":-1.5},"encoding":{"y":{"field":"b","type":"ordinal","scale":{"domain":[1,2,3,4,5,6,7,8,9,10,11,12,13,14,15,16,17,18,19,20,21,22,23,24,25],"paddingInner":0,"paddingOuter":0},"axis":null}}}
]}
]}
